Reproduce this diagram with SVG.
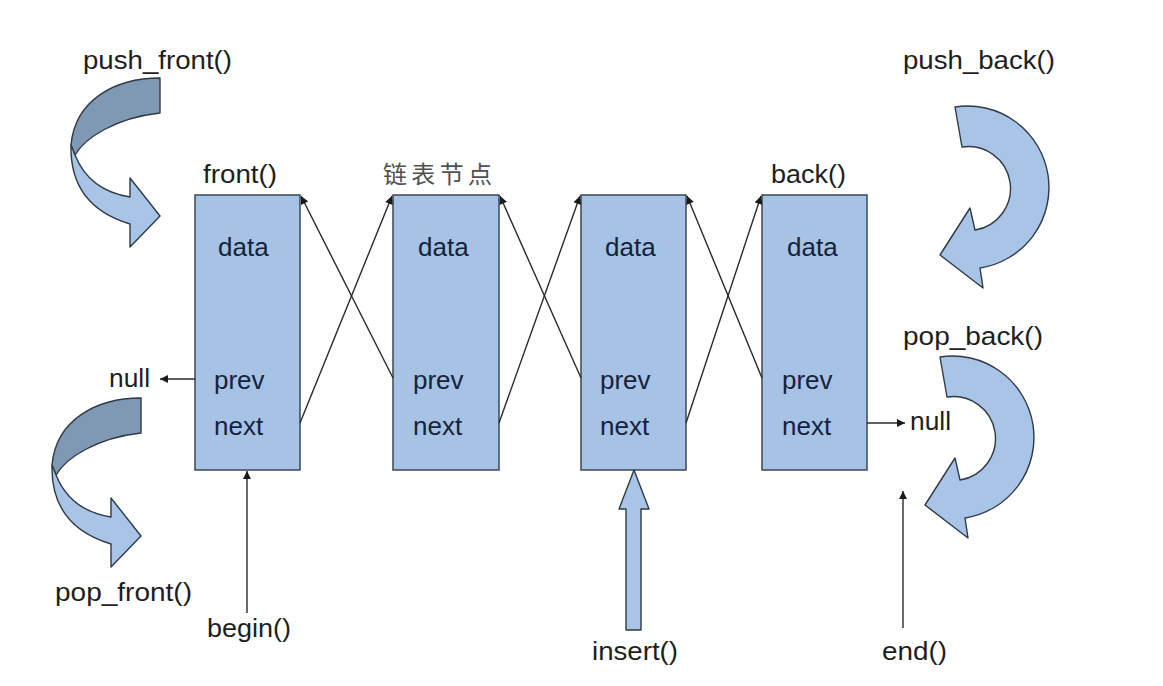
<svg xmlns="http://www.w3.org/2000/svg" width="1163" height="686" viewBox="0 0 1163 686">
<style>
.lbl{font-family:"Liberation Sans",Arial,sans-serif;font-size:26px;fill:#1e1e1e}
.fld{font-family:"Liberation Sans",Arial,sans-serif;font-size:26px;fill:#16223a}
.cjk{font-family:"Liberation Sans","Noto Sans CJK SC",sans-serif;font-size:24px;fill:#505050}
.box{fill:#a6c3e5;stroke:#3a4756;stroke-width:1.5}
.ln{stroke:#2a2a2a;stroke-width:1.4;fill:none}
.dark{fill:#7f98b4;stroke:#2f3a46;stroke-width:1.4;stroke-linejoin:round}
.light{fill:#a8c5e7;stroke:#2f3a46;stroke-width:1.4;stroke-linejoin:round}
</style>
<defs>
<marker id="ah" viewBox="0 0 10 10" refX="10" refY="5" markerWidth="9" markerHeight="8" orient="auto" markerUnits="userSpaceOnUse">
<path d="M0,0 L10,5 L0,10 z" fill="#1a1a1a"/>
</marker>
<g id="ribbon">
<path class="dark" d="M160,78 C115,78 75,100 71,145 L75,155 C85,138 115,118 160,113 Z"/>
<path class="light" d="M71,145 C70,185 90,212 130,224 L130,247 L160,216 L130,178 L130,197 C105,193 85,180 75,155 Z"/>
</g>
<path id="curl" class="light" d="M955,107 A81,81 0 0 1 980,268 L983,288 L940,255 L970,208 L975,230 A42,42 0 0 0 962,147 Z"/>
</defs>
<rect width="1163" height="686" fill="#ffffff"/>

<g id="push_front">
<use href="#ribbon"/>
<text class="lbl" x="83" y="69" textLength="149" lengthAdjust="spacingAndGlyphs">push_front()</text>
</g>
<g id="pop_front">
<use href="#ribbon" transform="translate(-19,320)"/>
<text class="lbl" x="55" y="601" textLength="137" lengthAdjust="spacingAndGlyphs">pop_front()</text>
</g>
<g id="push_back">
<use href="#curl"/>
<text class="lbl" x="903" y="69" textLength="152" lengthAdjust="spacingAndGlyphs">push_back()</text>
</g>
<g id="pop_back">
<use href="#curl" transform="translate(-15,250)"/>
<text class="lbl" x="903" y="345" textLength="140" lengthAdjust="spacingAndGlyphs">pop_back()</text>
</g>

<g id="node1">
<rect class="box" x="195" y="195" width="105" height="275"/>
<text class="fld" x="218" y="256">data</text>
<text class="fld" x="214" y="389">prev</text>
<text class="fld" x="214" y="435">next</text>
<text class="lbl" x="203" y="183" textLength="74" lengthAdjust="spacingAndGlyphs">front()</text>
</g>
<g id="node2">
<rect class="box" x="393" y="195" width="106" height="275"/>
<text class="fld" x="418" y="256">data</text>
<text class="fld" x="413" y="389">prev</text>
<text class="fld" x="413" y="435">next</text>
<text class="cjk" x="383" y="183" textLength="109" lengthAdjust="spacing">链表节点</text>
</g>
<g id="node3">
<rect class="box" x="581" y="195" width="105" height="275"/>
<text class="fld" x="605" y="256">data</text>
<text class="fld" x="600" y="389">prev</text>
<text class="fld" x="600" y="435">next</text>
</g>
<g id="node4">
<rect class="box" x="762" y="195" width="105" height="275"/>
<text class="fld" x="787" y="256">data</text>
<text class="fld" x="782" y="389">prev</text>
<text class="fld" x="782" y="435">next</text>
<text class="lbl" x="771" y="183" textLength="75" lengthAdjust="spacingAndGlyphs">back()</text>
</g>

<g id="null_left"><text class="lbl" x="109" y="387" textLength="41" lengthAdjust="spacingAndGlyphs">null</text></g>
<g id="null_right"><text class="lbl" x="910" y="430" textLength="41" lengthAdjust="spacingAndGlyphs">null</text></g>
<g id="begin"><text class="lbl" x="207" y="637" textLength="84" lengthAdjust="spacingAndGlyphs">begin()</text></g>
<g id="end"><text class="lbl" x="882" y="660" textLength="65" lengthAdjust="spacingAndGlyphs">end()</text></g>
<g id="insert">
<path class="light" d="M626,630 L626,509 L619,509 L634,470 L649,509 L641,509 L641,630 Z"/>
<text class="lbl" x="592" y="660" textLength="86" lengthAdjust="spacingAndGlyphs">insert()</text>
</g>

<g id="connectors">
<line class="ln" x1="300" y1="423" x2="392" y2="196" marker-end="url(#ah)"/>
<line class="ln" x1="393" y1="378" x2="301" y2="196" marker-end="url(#ah)"/>
<line class="ln" x1="499" y1="423" x2="580" y2="196" marker-end="url(#ah)"/>
<line class="ln" x1="581" y1="378" x2="500" y2="196" marker-end="url(#ah)"/>
<line class="ln" x1="686" y1="423" x2="761" y2="196" marker-end="url(#ah)"/>
<line class="ln" x1="762" y1="378" x2="687" y2="196" marker-end="url(#ah)"/>
<line class="ln" x1="195" y1="379" x2="160" y2="379" marker-end="url(#ah)"/>
<line class="ln" x1="867" y1="423" x2="905" y2="423" marker-end="url(#ah)"/>
<line class="ln" x1="247" y1="613" x2="247" y2="471" marker-end="url(#ah)"/>
<line class="ln" x1="903" y1="628" x2="903" y2="491" marker-end="url(#ah)"/>
</g>
</svg>
